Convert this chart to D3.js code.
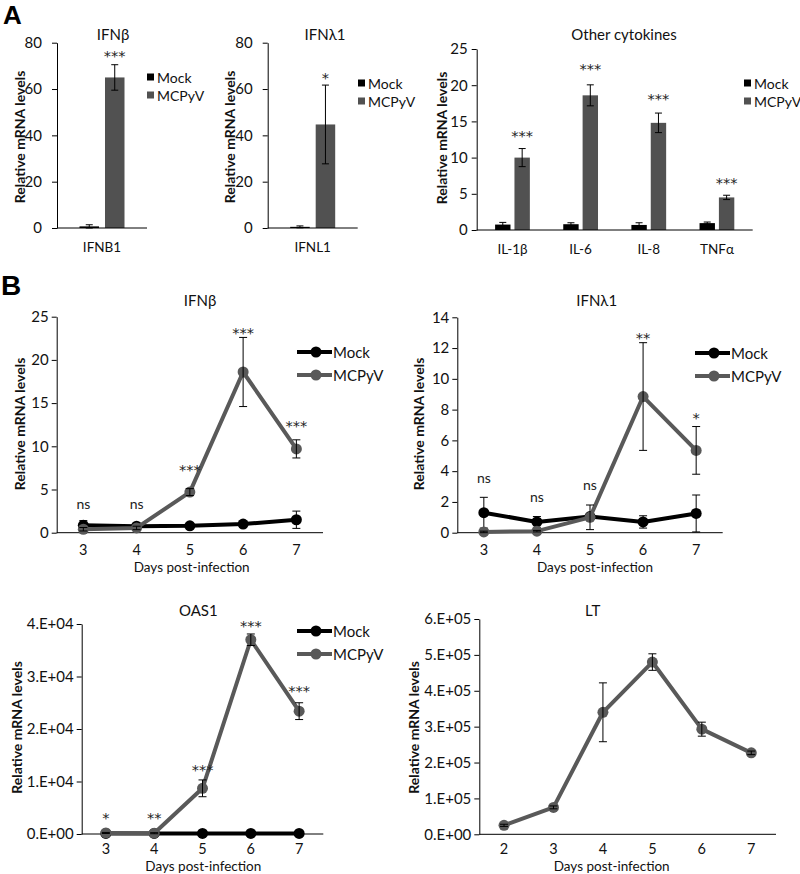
<!DOCTYPE html>
<html><head><meta charset="utf-8">
<script src="https://cdn.jsdelivr.net/npm/d3@7"></script>
<style>
body{margin:0;background:#fff;}
svg text{font-family:Lato,"Open Sans",sans-serif;}
</style></head><body>
<svg id="c" width="800" height="874"></svg>
<script>
// ================= DATA =================
const groups = ["Mock", "MCPyV"];

// Panel A – IFNβ
const aIfnbCats = ["IFNB1"];
const aIfnbMock = [0.7], aIfnbMockErr = [0.7];
const aIfnbMcp = [65], aIfnbMcpErr = [5.5];
const aIfnbSig = ["***"], aIfnbSigAt = [75.6];
const aIfnbTicks = [0, 20, 40, 60, 80];

// Panel A – IFNλ1
const aIfnlCats = ["IFNL1"];
const aIfnlMock = [0.5], aIfnlMockErr = [0.4];
const aIfnlMcp = [44.7], aIfnlMcpErr = [17];
const aIfnlSig = ["*"], aIfnlSigAt = [66];
const aIfnlTicks = [0, 20, 40, 60, 80];

// Panel A – Other cytokines
const aCytCats = ["IL-1β", "IL-6", "IL-8", "TNFα"];
const aCytMock = [0.75, 0.8, 0.7, 0.95], aCytMockErr = [0.3, 0.2, 0.3, 0.15];
const aCytMcp = [10, 18.6, 14.8, 4.5], aCytMcpErr = [1.25, 1.45, 1.35, 0.3];
const aCytSig = ["***", "***", "***", "***"], aCytSigAt = [13.4, 22.7, 18.55, 6.86];
const aCytTicks = [0, 5, 10, 15, 20, 25];

// Panel B – time courses
const bDays = [3, 4, 5, 6, 7];
const bIfnbMock = [0.85, 0.75, 0.8, 1.0, 1.5], bIfnbMockErr = [0.55, 0.2, 0.15, 0.15, 1.0];
const bIfnbMcp = [0.4, 0.55, 4.7, 18.6, 9.7], bIfnbMcpErr = [0.2, 0.2, 0.4, 4.0, 1.05];
const bIfnbSig = ["ns", "ns", "***", "***", "***"], bIfnbSigAt = [3.2, 3.2, 7.6, 23.4, 12.7];
const bIfnbTicks = [0, 5, 10, 15, 20, 25];

const bIfnlMock = [1.3, 0.7, 1.05, 0.7, 1.25], bIfnlMockErr = [1.0, 0.35, 0.15, 0.4, 1.2];
const bIfnlMcp = [0.05, 0.1, 1.0, 8.85, 5.35], bIfnlMcpErr = [0.05, 0.05, 0.8, 3.5, 1.55];
const bIfnlSig = ["ns", "ns", "ns", "**", "*"], bIfnlSigAt = [3.47, 2.24, 2.99, 12.85, 7.65];
const bIfnlTicks = [0, 2, 4, 6, 8, 10, 12, 14];

const bOasMock = [100, 100, 100, 100, 100], bOasMockErr = [0, 0, 0, 0, 0];
const bOasMcp = [200, 150, 8700, 37000, 23400], bOasMcpErr = [100, 100, 1600, 1100, 1600];
const bOasSig = ["*", "**", "***", "***", "***"], bOasSigAt = [3620, 3620, 12820, 40200, 27760];
const bOasTicks = [0, 10000, 20000, 30000, 40000];

const bLtDays = [2, 3, 4, 5, 6, 7];
const bLt = [25000, 75000, 340000, 480000, 293000, 227000];
const bLtErr = [3000, 4000, 82000, 23000, 19500, 5000];
const bLtTicks = [0, 100000, 200000, 300000, 400000, 500000, 600000];

// ================= STYLE =================
const FONT = "Lato, 'Open Sans', sans-serif";
const STAR_FONT = "'DejaVu Sans', sans-serif";
const C_MOCK = "#000000", C_MCP_BAR = "#515151", C_MCP_LINE = "#595959";
const svg = d3.select("#c");

function expFmt(d) {
  if (d === 0) return "0.E+00";
  const e = Math.floor(Math.log10(d));
  const m = Math.round(d / Math.pow(10, e));
  return m + ".E+" + String(e).padStart(2, "0");
}

function drawYAxis(g, y, ticks, fmt, pad, fs) {
  const ax = d3.axisLeft(y).tickValues(ticks).tickSize(5).tickSizeOuter(0)
    .tickPadding(pad).tickFormat(fmt || (d => d));
  g.call(ax).attr("font-family", FONT).attr("font-size", fs);
  g.select(".domain").attr("stroke", "#000");
  g.selectAll(".tick line").attr("stroke", "#000");
  g.selectAll(".tick text").attr("fill", "#111");
}

function yTitle(x, y, fs) {
  svg.append("text").attr("transform", `translate(${x},${y}) rotate(-90)`)
    .attr("text-anchor", "middle").attr("dominant-baseline", "central")
    .attr("font-weight", "bold").attr("font-size", fs).attr("fill", "#111")
    .text("Relative mRNA levels");
}

function sigText(x, yPix, s) {
  const isStar = s.indexOf("*") >= 0;
  const fs = isStar ? 14.5 : 14;
  svg.append("text").attr("x", x).attr("y", yPix + (isStar ? 0.55 : 0.25) * fs)
    .attr("text-anchor", "middle").attr("font-size", fs).attr("fill", "#222")
    .style("font-family", isStar ? STAR_FONT : FONT).text(s);
}

function errBar(x, yA, yB, cap) {
  const g = svg.append("g").attr("stroke", "#000").attr("stroke-width", 1);
  g.append("line").attr("x1", x).attr("x2", x).attr("y1", yA).attr("y2", yB);
  g.append("line").attr("x1", x - cap / 2).attr("x2", x + cap / 2).attr("y1", yA).attr("y2", yA);
  g.append("line").attr("x1", x - cap / 2).attr("x2", x + cap / 2).attr("y1", yB).attr("y2", yB);
}

// ---------- bar panels ----------
function barPanel(p) {
  const x = d3.scaleBand().domain(p.cats).range([p.left, p.right])
    .paddingInner(p.padIn).paddingOuter(p.padOut);
  const xs = d3.scaleBand().domain(groups).range([0, x.bandwidth()]).paddingInner(p.subPad);
  const y = d3.scaleLinear().domain([0, p.yMax]).range([p.bottom, p.top]);

  const series = [
    { key: "Mock", vals: p.mock, errs: p.mockErr, color: C_MOCK },
    { key: "MCPyV", vals: p.mcp, errs: p.mcpErr, color: C_MCP_BAR }
  ];
  series.forEach(s => {
    p.cats.forEach((c, i) => {
      const bx = x(c) + xs(s.key);
      svg.append("rect").attr("x", bx).attr("width", xs.bandwidth())
        .attr("y", y(s.vals[i])).attr("height", y(0) - y(s.vals[i])).attr("fill", s.color);
      errBar(bx + xs.bandwidth() / 2, y(s.vals[i] + s.errs[i]), y(Math.max(0, s.vals[i] - s.errs[i])), 7);
    });
  });
  p.cats.forEach((c, i) => {
    sigText(x(c) + xs("MCPyV") + xs.bandwidth() / 2, y(p.sigAt[i]), p.sig[i]);
    svg.append("text").attr("x", x(c) + x.bandwidth() / 2).attr("y", p.catY)
      .attr("text-anchor", "middle").attr("font-size", 13.5).attr("fill", "#111").text(c);
  });
  drawYAxis(svg.append("g").attr("transform", `translate(${p.left},0)`), y, p.ticks, null, p.tickPad, 15);
  svg.append("line").attr("x1", p.left).attr("x2", p.right).attr("y1", y(0)).attr("y2", y(0))
    .attr("stroke", "#000");
  svg.append("text").attr("x", p.titleX).attr("y", p.titleY).attr("text-anchor", "middle")
    .attr("font-size", 15).attr("fill", "#111").text(p.title);
  yTitle(p.ylabX, p.ylabY, 14);
  series.forEach((s, i) => {
    const ly = p.legY + i * 18;
    svg.append("rect").attr("x", p.legX).attr("y", ly - 3.5).attr("width", 7).attr("height", 7).attr("fill", s.color);
    svg.append("text").attr("x", p.legX + 10).attr("y", ly).attr("dominant-baseline", "central")
      .attr("font-size", 14).attr("fill", "#111").text(s.key);
  });
}

// ---------- line panels ----------
function linePanel(p) {
  const x = d3.scalePoint().domain(p.days).range([p.left, p.right]).padding(0.5);
  const y = d3.scaleLinear().domain([0, p.yMax]).range([p.bottom, p.top]);
  const line = d3.line().x((d, i) => x(p.days[i])).y(d => y(d));

  drawYAxis(svg.append("g").attr("transform", `translate(${p.left},0)`), y, p.ticks, p.fmt, p.tickPad, 15);
  svg.append("line").attr("x1", p.left).attr("x2", p.right).attr("y1", y(0)).attr("y2", y(0)).attr("stroke", "#000");
  p.days.forEach(d => {
    svg.append("text").attr("x", x(d)).attr("y", p.tickY).attr("text-anchor", "middle")
      .attr("font-size", 14.5).attr("fill", "#111").text(d);
  });
  svg.append("text").attr("x", p.xlabX).attr("y", p.xlabY).attr("text-anchor", "middle")
    .attr("font-size", 13.5).attr("fill", "#111").text("Days post-infection");

  p.series.forEach(s => {
    svg.append("path").datum(s.vals).attr("d", line).attr("fill", "none")
      .attr("stroke", s.color).attr("stroke-width", 4).attr("stroke-linejoin", "round");
    s.vals.forEach((v, i) => {
      svg.append("circle").attr("cx", x(p.days[i])).attr("cy", y(v)).attr("r", 5.5).attr("fill", s.color);
    });
    s.vals.forEach((v, i) => {
      if (s.errs[i] > 0) errBar(x(p.days[i]), y(v + s.errs[i]), y(Math.max(0, v - s.errs[i])), 8);
    });
  });
  if (p.sig) p.sig.forEach((s, i) => sigText(x(p.days[i]), y(p.sigAt[i]), s));

  svg.append("text").attr("x", p.titleX).attr("y", p.titleY).attr("text-anchor", "middle")
    .attr("dominant-baseline", "central").attr("font-size", 15).attr("fill", "#111").text(p.title);
  yTitle(p.ylabX, p.ylabY, 14);

  if (p.legX) {
    p.series.forEach((s, i) => {
      const ly = p.legY + i * 23;
      svg.append("line").attr("x1", p.legX).attr("x2", p.legX + 35).attr("y1", ly).attr("y2", ly)
        .attr("stroke", s.color).attr("stroke-width", 4);
      svg.append("circle").attr("cx", p.legX + 19).attr("cy", ly).attr("r", 5.5).attr("fill", s.color);
      svg.append("text").attr("x", p.legX + 36).attr("y", ly).attr("dominant-baseline", "central")
        .attr("font-size", 15).attr("fill", "#111").text(s.key);
    });
  }
}

// ================= DRAW =================
svg.append("text").attr("x", 3).attr("y", 24).attr("font-size", 26).attr("font-weight", "bold")
  .style("font-family", "Arial, 'Liberation Sans', sans-serif").text("A");
svg.append("text").attr("x", 1).attr("y", 295).attr("font-size", 28).attr("font-weight", "bold")
  .style("font-family", "Arial, 'Liberation Sans', sans-serif").text("B");

barPanel({ cats: aIfnbCats, mock: aIfnbMock, mockErr: aIfnbMockErr, mcp: aIfnbMcp, mcpErr: aIfnbMcpErr,
  sig: aIfnbSig, sigAt: aIfnbSigAt, ticks: aIfnbTicks, yMax: 80,
  left: 57, right: 147, top: 42.7, bottom: 228, padIn: 1 / 3, padOut: 1 / 3, subPad: 0.235, tickPad: 10,
  title: "IFNβ", titleX: 113, titleY: 40, ylabX: 19, ylabY: 137, legX: 147, legY: 77, catY: 252 });

barPanel({ cats: aIfnlCats, mock: aIfnlMock, mockErr: aIfnlMockErr, mcp: aIfnlMcp, mcpErr: aIfnlMcpErr,
  sig: aIfnlSig, sigAt: aIfnlSigAt, ticks: aIfnlTicks, yMax: 80,
  left: 267.7, right: 357.7, top: 42.7, bottom: 228, padIn: 1 / 3, padOut: 1 / 3, subPad: 0.235, tickPad: 10,
  title: "IFNλ1", titleX: 325, titleY: 40, ylabX: 229, ylabY: 137, legX: 358, legY: 83, catY: 252 });

barPanel({ cats: aCytCats, mock: aCytMock, mockErr: aCytMockErr, mcp: aCytMcp, mcpErr: aCytMcpErr,
  sig: aCytSig, sigAt: aCytSigAt, ticks: aCytTicks, yMax: 25,
  left: 476.7, right: 752.7, top: 49, bottom: 230, padIn: 0.49, padOut: 0.27, subPad: 0.205, tickPad: 4,
  title: "Other cytokines", titleX: 624, titleY: 40, ylabX: 441.7, ylabY: 138, legX: 744, legY: 83, catY: 254 });

linePanel({ days: bDays, yMax: 25, ticks: bIfnbTicks, left: 56.7, right: 323, top: 316.7, bottom: 532.7, tickPad: 3,
  series: [{ key: "Mock", vals: bIfnbMock, errs: bIfnbMockErr, color: C_MOCK }, { key: "MCPyV", vals: bIfnbMcp, errs: bIfnbMcpErr, color: C_MCP_LINE }],
  sig: bIfnbSig, sigAt: bIfnbSigAt, title: "IFNβ", titleX: 200, titleY: 300,
  tickY: 555, xlabX: 191.7, xlabY: 572, ylabX: 19, ylabY: 424, legX: 297, legY: 352 });

linePanel({ days: bDays, yMax: 14, ticks: bIfnlTicks, left: 457.3, right: 722.7, top: 317.3, bottom: 532.7, tickPad: 3,
  series: [{ key: "Mock", vals: bIfnlMock, errs: bIfnlMockErr, color: C_MOCK }, { key: "MCPyV", vals: bIfnlMcp, errs: bIfnlMcpErr, color: C_MCP_LINE }],
  sig: bIfnlSig, sigAt: bIfnlSigAt, title: "IFNλ1", titleX: 596.7, titleY: 300,
  tickY: 555, xlabX: 595, xlabY: 572, ylabX: 418.3, ylabY: 424, legX: 695, legY: 353 });

linePanel({ days: bDays, yMax: 40000, ticks: bOasTicks, fmt: expFmt, left: 81.7, right: 323.3, top: 624, bottom: 834, tickPad: 3,
  series: [{ key: "Mock", vals: bOasMock, errs: bOasMockErr, color: C_MOCK }, { key: "MCPyV", vals: bOasMcp, errs: bOasMcpErr, color: C_MCP_LINE }],
  sig: bOasSig, sigAt: bOasSigAt, title: "OAS1", titleX: 198.3, titleY: 610,
  tickY: 854, xlabX: 203.3, xlabY: 870.5, ylabX: 16.7, ylabY: 727.5, legX: 297, legY: 631 });

linePanel({ days: bLtDays, yMax: 600000, ticks: bLtTicks, fmt: expFmt, left: 479.3, right: 776, top: 619, bottom: 834.3, tickPad: 3,
  series: [{ key: "MCPyV", vals: bLt, errs: bLtErr, color: C_MCP_LINE }],
  sig: null, title: "LT", titleX: 592.7, titleY: 610,
  tickY: 854, xlabX: 611.7, xlabY: 870.5, ylabX: 413.3, ylabY: 727.5, legX: null });
</script>
</body></html>
